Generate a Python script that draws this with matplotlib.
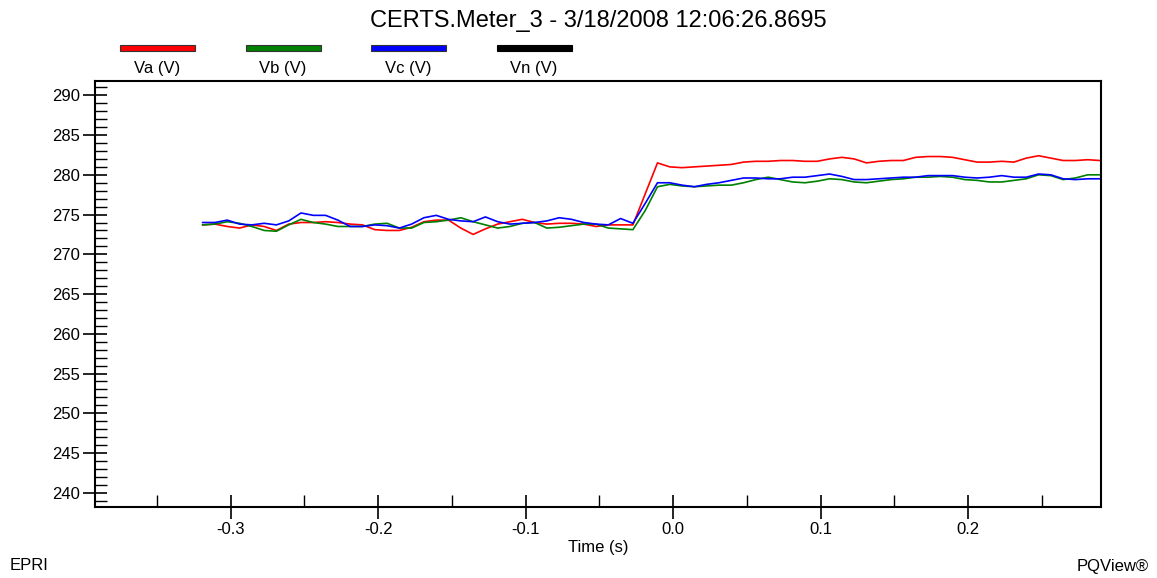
import numpy as np
import matplotlib.pyplot as plt
from matplotlib.patches import Rectangle
from matplotlib.ticker import MultipleLocator

plt.rcParams['font.family'] = ['Liberation Sans', 'DejaVu Sans']

# Half-cycle RMS samples (120 per second) starting at t0
t0 = -0.319
rate = 120.0

va = [273.7, 273.8, 273.5, 273.3, 273.7, 273.5, 273.0, 273.8, 274.0, 274.0,
      274.1, 274.0, 273.8, 273.7, 273.1, 273.0, 273.0, 273.4, 274.1, 274.3,
      274.3, 273.3, 272.5, 273.2, 273.8, 274.1, 274.4, 274.0, 273.8, 273.9,
      273.9, 273.8, 273.5, 273.7, 273.7, 273.7, 277.6, 281.5, 281.0, 280.9,
      281.0, 281.1, 281.2, 281.3, 281.6, 281.7, 281.7, 281.8, 281.8, 281.7,
      281.7, 282.0, 282.2, 282.0, 281.5, 281.7, 281.8, 281.8, 282.2, 282.3,
      282.3, 282.2, 281.9, 281.6, 281.6, 281.7, 281.6, 282.1, 282.4, 282.1,
      281.8, 281.8, 281.9, 281.8]

vb = [273.7, 273.8, 274.1, 273.9, 273.5, 273.0, 272.9, 273.7, 274.4, 274.0,
      273.8, 273.5, 273.5, 273.5, 273.8, 273.9, 273.3, 273.3, 274.0, 274.1,
      274.3, 274.6, 274.1, 273.7, 273.3, 273.5, 273.9, 274.0, 273.3, 273.4,
      273.6, 273.8, 273.8, 273.3, 273.2, 273.1, 275.5, 278.5, 278.8, 278.6,
      278.5, 278.6, 278.7, 278.7, 279.0, 279.4, 279.7, 279.4, 279.1, 279.0,
      279.2, 279.5, 279.4, 279.1, 279.0, 279.2, 279.4, 279.5, 279.7, 279.7,
      279.8, 279.7, 279.4, 279.3, 279.1, 279.1, 279.3, 279.5, 280.0, 279.9,
      279.4, 279.6, 280.0, 280.0]

vc = [274.0, 274.0, 274.3, 273.8, 273.7, 273.9, 273.7, 274.2, 275.2, 274.9,
      274.9, 274.3, 273.5, 273.5, 273.7, 273.6, 273.3, 273.8, 274.6, 274.9,
      274.4, 274.2, 274.1, 274.7, 274.1, 273.8, 273.9, 274.0, 274.2, 274.6,
      274.4, 274.0, 273.8, 273.7, 274.5, 273.9, 276.4, 279.0, 279.0, 278.7,
      278.5, 278.8, 279.0, 279.3, 279.6, 279.6, 279.5, 279.5, 279.7, 279.7,
      279.9, 280.1, 279.8, 279.4, 279.4, 279.5, 279.6, 279.7, 279.7, 279.9,
      279.9, 279.9, 279.7, 279.6, 279.7, 279.9, 279.7, 279.7, 280.1, 280.0,
      279.5, 279.4, 279.5, 279.5]

labels = ['Va (V)', 'Vb (V)', 'Vc (V)', 'Vn (V)']
colors = ['#ff0000', '#008000', '#0000ff', '#000000']

time = t0 + np.arange(len(va)) / rate

fig = plt.figure(figsize=(11.57, 5.78), dpi=100)
ax = fig.add_axes([0.0821, 0.1228, 0.8695, 0.7370])

for vals, c in zip([va, vb, vc], colors):
    ax.plot(time, vals, color=c, linewidth=1.2)

ax.set_xlim(-0.392, 0.290)
ax.set_ylim(238.2, 291.8)
ax.xaxis.set_major_locator(MultipleLocator(0.1))
ax.xaxis.set_minor_locator(MultipleLocator(0.05))
ax.yaxis.set_major_locator(MultipleLocator(5))
ax.yaxis.set_minor_locator(MultipleLocator(1))
ax.xaxis.set_major_formatter(plt.FuncFormatter(lambda v, p: f"{v:.1f}"))

ax.tick_params(which='major', direction='inout', length=17.5, width=1.2,
               labelsize=12, pad=2)
ax.tick_params(which='minor', direction='in', length=8.5, width=1.0)
ax.tick_params(top=False, right=False, which='both')
for s in ax.spines.values():
    s.set_linewidth(1.5)

ax.set_xlabel('Time (s)', fontsize=12, labelpad=2)

fig.text(0.517, 0.963, 'CERTS.Meter_3 - 3/18/2008 12:06:26.8695',
         ha='center', va='center', fontsize=17)

# legend strip above the plot
W, H = 1157.0, 578.0
for k, (lab, c) in enumerate(zip(labels, colors)):
    x0 = 120 + k * 125.5
    ec = '#333333' if k < 3 else '#000000'
    fig.add_artist(Rectangle((x0 / W, 1 - 51 / H), 75 / W, 6 / H,
                             facecolor=c, edgecolor=ec, linewidth=0.8,
                             transform=fig.transFigure))
    fig.text((x0 + 37.5) / W, 1 - 69 / H, lab, ha='center', va='center',
             fontsize=12)

fig.text(10 / W, 1 - 566 / H, 'EPRI', ha='left', va='center', fontsize=12)
fig.text(1149 / W, 1 - 566 / H, 'PQView®', ha='right', va='center',
         fontsize=12)

fig.savefig('out.png', dpi=100)
